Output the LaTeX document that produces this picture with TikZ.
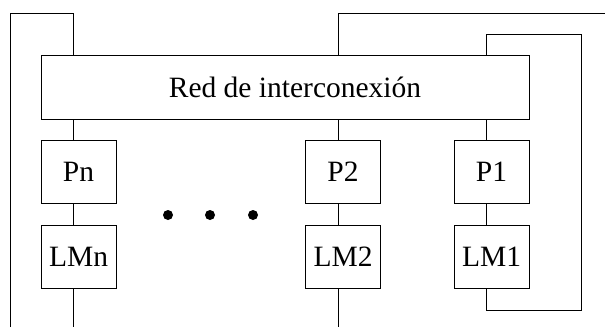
\documentclass[tikz,border=0pt]{standalone}
\usepackage{fontspec}
\setmainfont{Liberation Serif}
\tikzset{
  cell/.style={draw,minimum width=75pt,minimum height=63pt,inner sep=0pt},
  wire/.style={line width=0.8pt},
}
\begin{document}
\begin{tikzpicture}[x=1pt,y=-1pt,font=\fontsize{29.5}{34}\selectfont,line width=0.8pt]
\useasboundingbox (0,0) rectangle (605,327);
% network
\node[draw,minimum width=488pt,minimum height=64pt,inner sep=0pt] (red) at (285,87) {};
\node (redlbl) at (295,87) {Red de interconexi\'on};
% processors and local memories
\node[cell] (pn) at (78.5,171.5) {Pn};
\node[cell] (lmn) at (78.5,256.5) {LMn};
\node[cell] (p2) at (343,171.5) {P2};
\node[cell] (lm2) at (343,256.5) {LM2};
\node[cell] (p1) at (491.5,171.5) {P1};
\node[cell] (lm1) at (491.5,256.5) {LM1};
\foreach \x in {168,210,253}
  \fill (\x,215) circle (5);
% wire columns
\coordinate (cn) at (73,0);
\coordinate (c2) at (338,0);
\coordinate (c1) at (486,0);
\draw[wire] (10,327) -- (10,13) -| (red.north -| cn);
\draw[wire] (red.south -| cn) -- (pn.north -| cn)
            (pn.south -| cn) -- (lmn.north -| cn)
            (lmn.south -| cn) -- (73,327);
\draw[wire] (red.north -| c2) -- (338,13) -- (605,13);
\draw[wire] (red.south -| c2) -- (p2.north -| c2)
            (p2.south -| c2) -- (lm2.north -| c2)
            (lm2.south -| c2) -- (338,327);
\draw[wire] (red.north -| c1) -- (486,34) -- (581,34) -- (581,310) -- (486,310) -- (lm1.south -| c1);
\draw[wire] (red.south -| c1) -- (p1.north -| c1)
            (p1.south -| c1) -- (lm1.north -| c1);
\end{tikzpicture}
\end{document}
